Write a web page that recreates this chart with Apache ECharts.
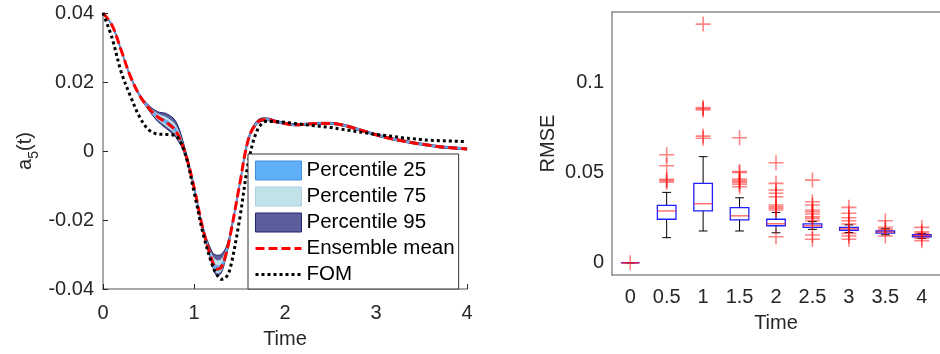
<!DOCTYPE html>
<html>
<head>
<meta charset="utf-8">
<script src="https://cdn.jsdelivr.net/npm/echarts@6/dist/echarts.min.js"></script>
<style>
  html, body { margin: 0; padding: 0; background: #fff; }
  #main { width: 940px; height: 354px; }
</style>
</head>
<body>
<div id="main"></div>
<script>
// left panel: a5(t) over time
var times = [0, 0.1, 0.2, 0.3, 0.4, 0.5, 0.6, 0.7, 0.8, 0.9, 1.0, 1.1, 1.2, 1.25, 1.3, 1.35, 1.4,
  1.5, 1.6, 1.7, 1.8, 1.9, 2.0, 2.1, 2.2, 2.3, 2.4, 2.5, 2.6, 2.7, 2.8, 2.9, 3.0,
  3.1, 3.2, 3.3, 3.4, 3.5, 3.6, 3.7, 3.8, 3.9, 4.0];
var ensembleMean = [0.0400, 0.0364, 0.0292, 0.0217, 0.0162, 0.0125, 0.0099, 0.0082, 0.0058, -0.0003,
  -0.0105, -0.0228, -0.0318, -0.0342, -0.0337, -0.0300, -0.0242, -0.0100, 0.0036, 0.0084, 0.0091,
  0.0085, 0.0080, 0.0076, 0.0077, 0.0079, 0.0080, 0.0080, 0.0077, 0.0071, 0.0063, 0.0055, 0.0047,
  0.0040, 0.0034, 0.0029, 0.0024, 0.0020, 0.0016, 0.0012, 0.0010, 0.0008, 0.0006];
var fomValues = [0.0400, 0.0327, 0.0229, 0.0160, 0.0100, 0.0062, 0.0049, 0.0048, 0.0044, -0.0006,
  -0.0118, -0.0240, -0.0330, -0.0358, -0.0372, -0.0367, -0.0338, -0.0200, -0.0030, 0.0063, 0.0086,
  0.0085, 0.0083, 0.0080, 0.0077, 0.0074, 0.0071, 0.0068, 0.0064, 0.0060, 0.0056, 0.0052, 0.0048,
  0.0045, 0.0042, 0.0038, 0.0036, 0.0033, 0.0031, 0.0030, 0.0029, 0.0028, 0.0027];
// band spread above / below the mean
var p95Above = [0, 0.0003, 0.0003, 0.0003, 0.0004, 0.0008, 0.0015, 0.0026, 0.0028, 0.0012,
  0.0006, 0.0008, 0.0025, 0.0040, 0.0038, 0.0020, 0.0008, 0.0006, 0.0006, 0.0006, 0.0005,
  0.0004, 0.0003, 0.0003, 0.0003, 0.0003, 0.0003, 0.0003, 0.0003, 0.0003, 0.0003, 0.0003, 0.0003,
  0.0003, 0.0003, 0.0003, 0.0003, 0.0003, 0.0003, 0.0003, 0.0003, 0.0003, 0.0003];
var p95Below = [0, 0.0003, 0.0003, 0.0003, 0.0003, 0.0006, 0.0013, 0.0018, 0.0018, 0.0008,
  0.0005, 0.0006, 0.0012, 0.0020, 0.0016, 0.0010, 0.0006, 0.0005, 0.0005, 0.0004, 0.0003,
  0.0003, 0.0003, 0.0003, 0.0003, 0.0003, 0.0003, 0.0003, 0.0003, 0.0003, 0.0003, 0.0003, 0.0003,
  0.0003, 0.0003, 0.0003, 0.0003, 0.0003, 0.0003, 0.0003, 0.0003, 0.0003, 0.0003];
var p75Above = [0, 0.0002, 0.0002, 0.0002, 0.0002, 0.0005, 0.0009, 0.0015, 0.0016, 0.0007,
  0.0004, 0.0005, 0.0015, 0.0025, 0.0023, 0.0012, 0.0005, 0.0004, 0.0004, 0.0003, 0.0003,
  0.0002, 0.0002, 0.0002, 0.0002, 0.0002, 0.0002, 0.0002, 0.0002, 0.0002, 0.0002, 0.0002, 0.0002,
  0.0002, 0.0002, 0.0002, 0.0002, 0.0002, 0.0002, 0.0002, 0.0002, 0.0002, 0.0002];
var p75Below = [0, 0.0002, 0.0002, 0.0002, 0.0002, 0.0004, 0.0008, 0.0011, 0.0011, 0.0005,
  0.0003, 0.0004, 0.0007, 0.0012, 0.0010, 0.0006, 0.0004, 0.0003, 0.0003, 0.0002, 0.0002,
  0.0002, 0.0002, 0.0002, 0.0002, 0.0002, 0.0002, 0.0002, 0.0002, 0.0002, 0.0002, 0.0002, 0.0002,
  0.0002, 0.0002, 0.0002, 0.0002, 0.0002, 0.0002, 0.0002, 0.0002, 0.0002, 0.0002];
var p25Above = [0, 0.0001, 0.0001, 0.0001, 0.0001, 0.0002, 0.0004, 0.0007, 0.0007, 0.0003,
  0.0002, 0.0002, 0.0006, 0.0010, 0.0009, 0.0005, 0.0002, 0.0002, 0.0002, 0.0001, 0.0001,
  0.0001, 0.0001, 0.0001, 0.0001, 0.0001, 0.0001, 0.0001, 0.0001, 0.0001, 0.0001, 0.0001, 0.0001,
  0.0001, 0.0001, 0.0001, 0.0001, 0.0001, 0.0001, 0.0001, 0.0001, 0.0001, 0.0001];
var p25Below = [0, 0.0001, 0.0001, 0.0001, 0.0001, 0.0002, 0.0004, 0.0005, 0.0005, 0.0002,
  0.0001, 0.0002, 0.0003, 0.0005, 0.0004, 0.0003, 0.0002, 0.0001, 0.0001, 0.0001, 0.0001,
  0.0001, 0.0001, 0.0001, 0.0001, 0.0001, 0.0001, 0.0001, 0.0001, 0.0001, 0.0001, 0.0001, 0.0001,
  0.0001, 0.0001, 0.0001, 0.0001, 0.0001, 0.0001, 0.0001, 0.0001, 0.0001, 0.0001];

// right panel: RMSE boxplots
var boxCategories = ['0', '0.5', '1', '1.5', '2', '2.5', '3', '3.5', '4'];
// [lower whisker, Q1, median, Q3, upper whisker]
var boxStats = [
  [0, 0, 0, 0, 0],
  [0.0139, 0.0241, 0.0287, 0.0318, 0.0390],
  [0.0176, 0.0287, 0.0327, 0.0440, 0.0588],
  [0.0176, 0.0238, 0.0260, 0.0305, 0.0360],
  [0.0166, 0.0205, 0.0216, 0.0241, 0.0279],
  [0.0185, 0.0196, 0.0205, 0.0215, 0.0228],
  [0.0168, 0.0180, 0.0188, 0.0196, 0.0210],
  [0.0155, 0.0164, 0.0170, 0.0176, 0.0188],
  [0.0135, 0.0144, 0.0150, 0.0155, 0.0163]
];
var outliers = [
  [0],
  [0.0599, 0.0538, 0.0462, 0.0455, 0.0446],
  [0.1323, 0.0860, 0.0854, 0.0847, 0.0702, 0.0690],
  [0.0693, 0.0505, 0.0500, 0.0464, 0.0455, 0.0447, 0.0436, 0.0421],
  [0.0554, 0.0440, 0.0403, 0.0385, 0.0366, 0.0320, 0.0310, 0.0302, 0.0292, 0.0144],
  [0.0458, 0.0338, 0.0320, 0.0292, 0.0283, 0.0270, 0.0255, 0.0246, 0.0233, 0.0154, 0.0130],
  [0.0307, 0.0274, 0.0249, 0.0233, 0.0215, 0.0163, 0.0148, 0.0130],
  [0.0233, 0.0196, 0.0185, 0.0148],
  [0.0196, 0.0172, 0.0163, 0.0135, 0.0122]
];

var font = 'Liberation Sans, Arial, Helvetica, sans-serif';
var textColor = '#262626';
var axisGray = '#8c8c8c';
var SMOOTH = 0.35;

// one custom series per percentile band: the whole band is drawn as a polygon
function bandSeries(name, above, below, fill, edge, edgeWidth) {
  var data = times.map(function (t, i) {
    return [t, ensembleMean[i] - below[i], ensembleMean[i] + above[i]];
  });
  return {
    name: name, type: 'custom', xAxisIndex: 0, yAxisIndex: 0, silent: true,
    data: data, encode: { x: 0, y: [1, 2] },
    renderItem: function (params, api) {
      if (params.dataIndexInside !== 0) return null;
      var n = params.dataInsideLength;
      var upper = [], lower = [];
      for (var k = 0; k < n; k++) {
        lower.push(api.coord([api.value(0, k), api.value(1, k)]));
        upper.push(api.coord([api.value(0, k), api.value(2, k)]));
      }
      var ring = upper.concat(lower.slice().reverse());
      var edgeStyle = { fill: 'none', stroke: edge, lineWidth: edgeWidth };
      return {
        type: 'group',
        children: [
          { type: 'polygon', shape: { points: ring, smooth: SMOOTH }, style: { fill: fill } },
          { type: 'polyline', shape: { points: upper, smooth: SMOOTH }, style: edgeStyle },
          { type: 'polyline', shape: { points: lower, smooth: SMOOTH }, style: edgeStyle }
        ]
      };
    }
  };
}

function renderBox(params, api) {
  var i = api.value(0);
  var lo = api.coord([i, api.value(1)]);
  var q1 = api.coord([i, api.value(2)]);
  var med = api.coord([i, api.value(3)]);
  var q3 = api.coord([i, api.value(4)]);
  var hi = api.coord([i, api.value(5)]);
  var band = api.size([1, 0])[0];
  var half = band * 0.255, cap = band * 0.12;
  var x = med[0];
  var black = { stroke: '#000', lineWidth: 1 };
  return {
    type: 'group',
    children: [
      { type: 'line', shape: { x1: x, y1: hi[1], x2: x, y2: q3[1] }, style: black },
      { type: 'line', shape: { x1: x, y1: q1[1], x2: x, y2: lo[1] }, style: black },
      { type: 'line', shape: { x1: x - cap, y1: hi[1], x2: x + cap, y2: hi[1] }, style: black },
      { type: 'line', shape: { x1: x - cap, y1: lo[1], x2: x + cap, y2: lo[1] }, style: black },
      { type: 'rect', shape: { x: x - half, y: q3[1], width: half * 2, height: q1[1] - q3[1] },
        style: { fill: 'none', stroke: '#1f1fff', lineWidth: 1.3 } },
      { type: 'line', shape: { x1: x - half, y1: med[1], x2: x + half, y2: med[1] },
        style: { stroke: 'rgba(255,40,40,0.75)', lineWidth: 1.3 } }
    ]
  };
}

var boxData = boxStats.map(function (s, i) { return [i].concat(s); });
var outlierData = [];
outliers.forEach(function (list, i) {
  list.forEach(function (v) { outlierData.push([i, v]); });
});

var series = [
  bandSeries('Percentile 95', p95Above, p95Below, '#5c5e9c', '#1e2470', 1),
  bandSeries('Percentile 75', p75Above, p75Below, '#c2e2ea', '#a9d3e0', 0.5),
  bandSeries('Percentile 25', p25Above, p25Below, '#5eaff6', '#3d8fe0', 0.5),
  {
    name: 'Ensemble mean', type: 'line', xAxisIndex: 0, yAxisIndex: 0,
    data: times.map(function (t, i) { return [t, ensembleMean[i]]; }),
    symbol: 'none', smooth: SMOOTH, itemStyle: { color: '#ff0000' },
    lineStyle: { color: '#ff0000', width: 3, type: [9, 4] }
  },
  {
    name: 'FOM', type: 'line', xAxisIndex: 0, yAxisIndex: 0,
    data: times.map(function (t, i) { return [t, fomValues[i]]; }),
    symbol: 'none', smooth: SMOOTH, itemStyle: { color: '#000' },
    lineStyle: { color: '#000', width: 3, type: [3, 3] }
  },
  {
    name: 'box', type: 'custom', xAxisIndex: 1, yAxisIndex: 1,
    renderItem: renderBox, data: boxData,
    encode: { x: 0, y: [1, 2, 3, 4, 5] }, silent: true
  },
  {
    name: 'outliers', type: 'scatter', xAxisIndex: 1, yAxisIndex: 1,
    data: outlierData, symbolSize: 15,
    symbol: 'path://M0,6.7L15,6.7L15,8.3L0,8.3ZM6.7,0L8.3,0L8.3,15L6.7,15Z',
    itemStyle: { color: 'rgba(255,0,0,0.6)' }, silent: true, z: 5
  }
];

var labelStyle = { color: textColor, fontSize: 20, fontFamily: font };
var tickStyle = { inside: true, length: 5, lineStyle: { color: textColor, width: 1 } };
var axisLineStyle = { show: true, onZero: false, lineStyle: { color: axisGray, width: 1.5 } };
var hideSymbol = { opacity: 0 };

var option = {
  animation: false,
  backgroundColor: '#fff',
  textStyle: { fontFamily: font },
  grid: [
    { left: 103, top: 13, width: 364, height: 280 },
    { left: 612, top: 12, width: 336, height: 263 }
  ],
  legend: {
    data: [
      { name: 'Percentile 25', icon: 'rect', itemStyle: { color: '#5eaff6', borderColor: '#3d8fe0', borderWidth: 1 } },
      { name: 'Percentile 75', icon: 'rect', itemStyle: { color: '#c2e2ea', borderColor: '#a9d3e0', borderWidth: 1 } },
      { name: 'Percentile 95', icon: 'rect', itemStyle: { color: '#5c5e9c', borderColor: '#1e2470', borderWidth: 1 } },
      { name: 'Ensemble mean', itemStyle: hideSymbol, lineStyle: { color: '#ff0000', width: 3, type: [9, 4] } },
      { name: 'FOM', itemStyle: hideSymbol, lineStyle: { color: '#000', width: 3, type: [3, 3] } }
    ],
    orient: 'vertical', left: 248, top: 154,
    itemWidth: 46, itemHeight: 19, itemGap: 5,
    padding: [6, 4, 4, 6],
    backgroundColor: '#fff', borderColor: '#333', borderWidth: 1,
    selectedMode: false,
    textStyle: { color: '#000', fontSize: 20.5, fontFamily: font }
  },
  xAxis: [
    {
      type: 'value', gridIndex: 0, min: 0, max: 4, interval: 1,
      name: 'Time', nameLocation: 'middle', nameGap: 40, nameTextStyle: labelStyle,
      axisLine: axisLineStyle, axisTick: tickStyle,
      axisLabel: Object.assign({ margin: 14 }, labelStyle),
      splitLine: { show: false }
    },
    {
      type: 'category', gridIndex: 1, data: boxCategories, boundaryGap: true,
      name: 'Time', nameLocation: 'middle', nameGap: 38, nameTextStyle: labelStyle,
      axisLine: axisLineStyle, axisTick: Object.assign({ alignWithLabel: true }, tickStyle),
      axisLabel: Object.assign({ margin: 12 }, labelStyle),
      splitLine: { show: false }
    },
    {
      type: 'category', gridIndex: 1, data: boxCategories, boundaryGap: true, position: 'top',
      axisLine: axisLineStyle, axisTick: Object.assign({ alignWithLabel: true }, tickStyle),
      axisLabel: { show: false }, splitLine: { show: false }
    }
  ],
  yAxis: [
    {
      type: 'value', gridIndex: 0, min: -0.04, max: 0.04, interval: 0.02,
      name: '{a|a}{s|5}{a|(t)}', nameLocation: 'middle', nameGap: 62,
      nameTextStyle: {
        color: textColor, fontFamily: font,
        rich: {
          a: { fontSize: 20, lineHeight: 26, verticalAlign: 'top', color: textColor, fontFamily: font },
          s: { fontSize: 14, lineHeight: 14, verticalAlign: 'bottom', color: textColor, fontFamily: font }
        }
      },
      axisLine: axisLineStyle, axisTick: tickStyle,
      axisLabel: Object.assign({ margin: 9 }, labelStyle),
      splitLine: { show: false }
    },
    {
      type: 'value', gridIndex: 1, min: -0.0068, max: 0.139,
      minInterval: 0.05, maxInterval: 0.05,
      name: 'RMSE', nameLocation: 'middle', nameGap: 54, nameTextStyle: labelStyle,
      axisLine: axisLineStyle, axisTick: tickStyle,
      axisLabel: Object.assign({
        margin: 8,
        formatter: function (v) {
          var r = Math.round(v / 0.05) * 0.05;
          return Math.abs(v - r) < 1e-9 ? String(+r.toFixed(2)) : '';
        }
      }, labelStyle),
      splitLine: { show: false }
    }
  ],
  series: series
};

var myChart = echarts.init(document.getElementById('main'));
myChart.setOption(option);
</script>
</body>
</html>
